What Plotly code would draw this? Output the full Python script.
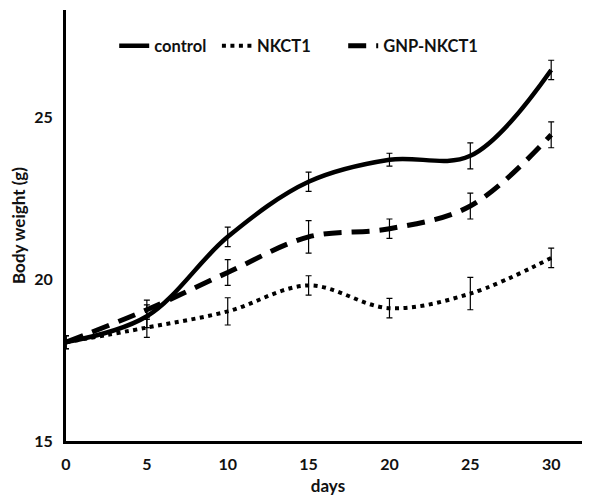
import plotly.graph_objects as go

days = [0, 5, 10, 15, 20, 25, 30]
control = [18.05, 18.85, 21.3, 23.0, 23.68, 23.8, 26.45]
control_err = [0.2, 0.35, 0.3, 0.3, 0.2, 0.4, 0.3]
nkct1 = [18.05, 18.5, 19.0, 19.8, 19.1, 19.55, 20.65]
nkct1_err = [0.2, 0.3, 0.42, 0.3, 0.3, 0.5, 0.3]
gnp_nkct1 = [18.05, 19.05, 20.2, 21.3, 21.55, 22.25, 24.45]
gnp_nkct1_err = [0.2, 0.3, 0.4, 0.5, 0.3, 0.4, 0.4]

names = ["control", "NKCT1", "GNP-NKCT1"]
x_ticks = [0, 5, 10, 15, 20, 25, 30]
y_ticks = [15, 20, 25]

FONT = "Lato, 'Open Sans', sans-serif"

def err(a):
    return dict(type="data", array=a, visible=True, color="black", thickness=1.2, width=3)

fig = go.Figure()
fig.add_trace(go.Scatter(x=days, y=control, name=names[0], mode="lines", legend="legend",
                         line=dict(color="black", width=4.5, shape="spline", smoothing=1.0),
                         error_y=err(control_err)))
fig.add_trace(go.Scatter(x=days, y=nkct1, name=names[1], mode="lines", legend="legend2",
                         line=dict(color="black", width=4, shape="spline", smoothing=1.0, dash="4px,4.5px"),
                         error_y=err(nkct1_err)))
fig.add_trace(go.Scatter(x=days, y=gnp_nkct1, name=names[2], mode="lines", legend="legend3",
                         line=dict(color="black", width=5, shape="spline", smoothing=1.0, dash="18px,10px"),
                         error_y=err(gnp_nkct1_err)))

legend_font = dict(family=FONT, size=16.5, color="#111111", weight="bold")
def leg(x):
    return dict(orientation="h", x=x, y=0.9165, xanchor="left", yanchor="middle",
                bgcolor="rgba(0,0,0,0)", itemwidth=30, font=legend_font)

fig.update_layout(
    width=582, height=488,
    margin=dict(l=58, r=0, t=2, b=55, autoexpand=False),
    paper_bgcolor="white", plot_bgcolor="white",
    font=dict(family=FONT, size=16, color="#111111", weight="bold"),
    showlegend=True,
    legend=leg(0.092),
    legend2=leg(0.288),
    legend3=leg(0.529),
    xaxis=dict(range=[0, 32.4], tickvals=x_ticks, ticktext=[str(v) for v in x_ticks],
               showline=True, linewidth=3, linecolor="black", showgrid=False, zeroline=False,
               ticks="", ticklabelstandoff=7, automargin=False,
               title=dict(text="days", standoff=11, font=dict(family=FONT, size=17, weight="bold"))),
    yaxis=dict(range=[15, 28.3], tickvals=y_ticks, ticktext=[str(v) for v in y_ticks],
               showline=True, linewidth=3, linecolor="black", showgrid=False, zeroline=False,
               ticks="", ticklabelstandoff=7, automargin=False,
               title=dict(text="Body weight (g)", standoff=6, font=dict(family=FONT, size=17, weight="bold"))),
)

fig.write_html("out.html")
